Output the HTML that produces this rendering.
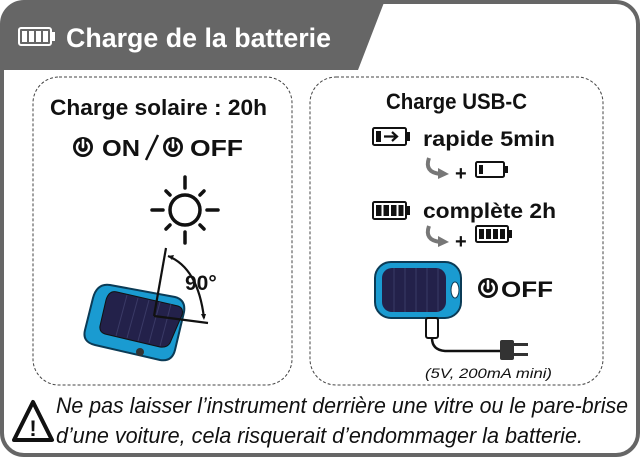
<!DOCTYPE html>
<html><head><meta charset="utf-8"><style>
html,body{margin:0;padding:0;background:#fff}
svg{display:block}
text{font-family:"Liberation Sans",sans-serif}
</style></head><body>
<svg width="640" height="457" viewBox="0 0 640 457" xmlns="http://www.w3.org/2000/svg">
<defs>
<g id="pw"><circle r="10" fill="#111"/><path d="M-4.2,-4.2 A6,6 0 1 0 4.2,-4.2" fill="none" stroke="#fff" stroke-width="2.4" stroke-linecap="round"/><line x1="0" y1="-7" x2="0" y2="0" stroke="#fff" stroke-width="2.6" stroke-linecap="round"/></g>
</defs>
<rect x="2" y="2" width="636" height="453" rx="22" fill="#fff" stroke="#666" stroke-width="4"/>
<path d="M24,0 L385,0 L358,70 L2,70 L2,24 Q2,2 24,2 Z" fill="#666"/>
<rect x="19" y="28" width="32" height="17" rx="2" fill="none" stroke="#fff" stroke-width="2"/>
<rect x="51" y="32" width="4" height="9" fill="#fff"/>
<g fill="#fff"><rect x="22" y="31" width="5" height="11"/><rect x="29" y="31" width="5" height="11"/><rect x="36" y="31" width="5" height="11"/><rect x="43" y="31" width="5" height="11"/></g>
<text x="66" y="47" font-size="27" font-weight="bold" fill="#fff" textLength="265" lengthAdjust="spacingAndGlyphs">Charge de la batterie</text>
<rect x="33" y="77" width="259" height="308" rx="26" fill="none" stroke="#444" stroke-width="1" stroke-dasharray="3,2"/>
<rect x="310" y="77" width="293" height="308" rx="26" fill="none" stroke="#444" stroke-width="1" stroke-dasharray="3,2"/>
<text x="50" y="115" font-size="22" font-weight="bold" fill="#111" textLength="217" lengthAdjust="spacingAndGlyphs">Charge solaire : 20h</text>
<use href="#pw" x="83" y="147"/>
<text x="102" y="156" font-size="23" font-weight="bold" fill="#111" textLength="38" lengthAdjust="spacingAndGlyphs">ON</text>
<line x1="158" y1="135" x2="146" y2="160" stroke="#111" stroke-width="2.5"/>
<use href="#pw" x="173" y="147"/>
<text x="190" y="156" font-size="23" font-weight="bold" fill="#111" textLength="53" lengthAdjust="spacingAndGlyphs">OFF</text>
<g stroke="#111" stroke-width="3.5" stroke-linecap="round" fill="none">
<circle cx="185" cy="210" r="15"/>
<line x1="185" y1="177" x2="185" y2="188"/><line x1="185" y1="232" x2="185" y2="243"/>
<line x1="152" y1="210" x2="163" y2="210"/><line x1="207" y1="210" x2="218" y2="210"/>
<line x1="166" y1="191" x2="170" y2="195"/><line x1="200" y1="225" x2="204" y2="229"/>
<line x1="166" y1="229" x2="170" y2="225"/><line x1="200" y1="195" x2="204" y2="191"/>
</g>
<g>
<path d="M110,285 L175,297 Q186,300 184,312 L175,350 Q172,362 160,360 L95,345 Q82,342 85,330 L93,298 Q97,283 110,285 Z" fill="#1a9bd1" stroke="#0b3b56" stroke-width="2"/>
<path d="M117,292 L178,306 Q184,308 182,315 L170,343 Q167,348 160,347 L105,334 Q99,332 100,326 L106,300 Q109,290 117,292 Z" fill="#23214a" stroke="#111" stroke-width="1"/>
<g stroke="#3a3a66" stroke-width="1"><line x1="127" y1="295" x2="116" y2="336"/><line x1="138" y1="298" x2="127" y2="338"/><line x1="149" y1="300" x2="138" y2="341"/><line x1="160" y1="302" x2="149" y2="343"/><line x1="171" y1="304" x2="160" y2="346"/></g>
<circle cx="140" cy="352" r="4" fill="#333"/>
</g>
<g stroke="#111" stroke-width="2.2" fill="none">
<line x1="166" y1="248" x2="154" y2="316"/>
<line x1="154" y1="316" x2="208" y2="323"/>
<path d="M168,256 Q198,268 204,318"/>
</g>
<path d="M168,256 l6,-1 l-2,5 z M204,320 l-3,-6 l5,0 z" fill="#111"/>
<text x="185" y="290" font-size="21" font-weight="bold" fill="#111">90°</text>
<text x="386" y="109" font-size="22" font-weight="bold" fill="#111" textLength="141" lengthAdjust="spacingAndGlyphs">Charge USB-C</text>
<rect x="373" y="128" width="33" height="17" rx="1.5" fill="none" stroke="#111" stroke-width="2"/>
<rect x="406" y="132" width="4" height="9" fill="#111"/>
<rect x="376" y="131" width="5" height="11" fill="#111"/>
<path d="M384,136.5 h12 M392,132 l5,4.5 l-5,4.5" stroke="#111" stroke-width="2.2" fill="none"/>
<text x="423" y="146" font-size="21" font-weight="bold" fill="#111" textLength="132" lengthAdjust="spacingAndGlyphs">rapide 5min</text>
<path d="M429,158 Q424,172 440,174" stroke="#777" stroke-width="4" fill="none"/><path d="M438,168 l11,6 l-11,5 z" fill="#777"/>
<text x="455" y="180" font-size="20" font-weight="bold" fill="#111">+</text>
<rect x="476" y="162" width="28" height="15" rx="1.5" fill="none" stroke="#111" stroke-width="2"/>
<rect x="504" y="166" width="4" height="7" fill="#111"/>
<rect x="479" y="165" width="4" height="9" fill="#111"/>
<rect x="373" y="202" width="33" height="17" rx="1.5" fill="none" stroke="#111" stroke-width="2"/>
<rect x="406" y="206" width="4" height="9" fill="#111"/>
<g fill="#111"><rect x="376" y="205" width="5.5" height="11"/><rect x="383.5" y="205" width="5.5" height="11"/><rect x="391" y="205" width="5.5" height="11"/><rect x="398.5" y="205" width="5" height="11"/></g>
<text x="423" y="218" font-size="21" font-weight="bold" fill="#111" textLength="133" lengthAdjust="spacingAndGlyphs">complète 2h</text>
<path d="M429,226 Q424,240 440,242" stroke="#777" stroke-width="4" fill="none"/><path d="M438,236 l11,6 l-11,5 z" fill="#777"/>
<text x="455" y="248" font-size="20" font-weight="bold" fill="#111">+</text>
<rect x="476" y="226" width="32" height="16" rx="1.5" fill="none" stroke="#111" stroke-width="2"/>
<rect x="508" y="230" width="4" height="8" fill="#111"/>
<g fill="#111"><rect x="479" y="229" width="5" height="10"/><rect x="486" y="229" width="5" height="10"/><rect x="493" y="229" width="5" height="10"/><rect x="500" y="229" width="5" height="10"/></g>
<rect x="375" y="262" width="86" height="56" rx="16" fill="#1a9bd1" stroke="#0b3b56" stroke-width="2"/>
<rect x="382" y="268" width="64" height="44" rx="10" fill="#23214a"/>
<g stroke="#3a3a66" stroke-width="1"><line x1="394" y1="268" x2="394" y2="312"/><line x1="405" y1="268" x2="405" y2="312"/><line x1="416" y1="268" x2="416" y2="312"/><line x1="427" y1="268" x2="427" y2="312"/><line x1="438" y1="268" x2="438" y2="312"/></g>
<ellipse cx="455" cy="290" rx="4" ry="8" fill="#fff" stroke="#0b3b56"/>
<use href="#pw" x="488" y="288"/>
<text x="501" y="297" font-size="22" font-weight="bold" fill="#111" textLength="52" lengthAdjust="spacingAndGlyphs">OFF</text>
<rect x="426" y="318" width="12" height="20" rx="2" fill="#fff" stroke="#111" stroke-width="2"/>
<path d="M432,338 Q432,350 445,351 L502,351" stroke="#111" stroke-width="2.5" fill="none"/>
<rect x="500" y="340" width="14" height="20" rx="2" fill="#333"/>
<rect x="514" y="343" width="14" height="3" fill="#333"/><rect x="514" y="353" width="14" height="3" fill="#333"/>
<text x="425" y="378" font-size="14" font-style="italic" fill="#111" textLength="127" lengthAdjust="spacingAndGlyphs">(5V, 200mA mini)</text>
<path d="M33,402 L52,440 L14,440 Z" fill="#fff" stroke="#111" stroke-width="4" stroke-linejoin="round"/>
<text x="33" y="436" font-size="22" font-weight="bold" fill="#111" text-anchor="middle">!</text>
<text x="56" y="413" font-size="22" font-style="italic" fill="#111" textLength="572" lengthAdjust="spacingAndGlyphs">Ne pas laisser l’instrument derrière une vitre ou le pare-brise</text>
<text x="56" y="443" font-size="22" font-style="italic" fill="#111" textLength="527" lengthAdjust="spacingAndGlyphs">d’une voiture, cela risquerait d’endommager la batterie.</text>
</svg>
</body></html>
